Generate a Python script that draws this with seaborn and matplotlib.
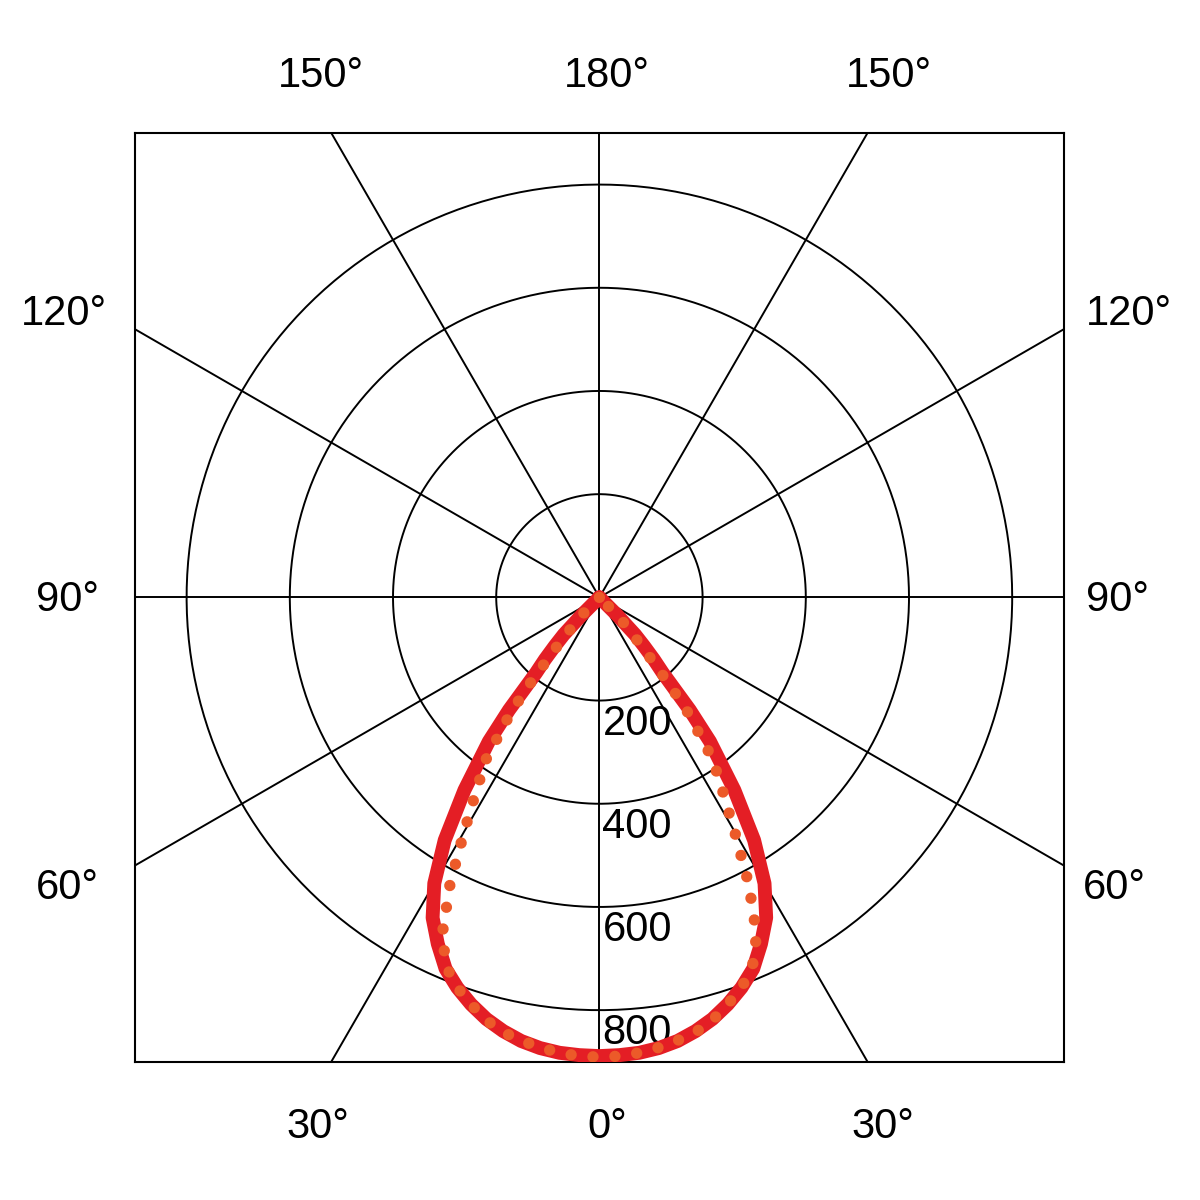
import numpy as np
import pandas as pd
import matplotlib.pyplot as plt
import seaborn as sns

# luminous intensity (cd) against angle from nadir (symmetric)
angles = [0, 2.5, 5, 7.5, 10, 12.5, 15, 17.5, 20, 22.5, 25, 27.5, 30, 32.5, 35, 37.5,
          38.75, 40, 41.25, 42.5, 43.75, 45, 47.5]
solid_cd = [889, 888, 886, 881, 873, 861, 846, 827, 805, 779, 741, 700, 640, 558, 456, 352,
            280, 191, 160, 128, 100, 50, 0]
dotted_cd = [891, 890, 886, 880, 872, 863, 848, 827, 805, 775, 721, 627, 524, 444, 382, 283,
             220, 153, 115, 80, 67, 55, 0]

ring_values = [200, 400, 600, 800]
spoke_angles = [0, 30, 60, 90, 120, 150, 180]
angle_text = ['150°', '180°', '150°', '120°', '120°', '90°', '90°', '60°', '60°', '30°', '0°', '30°']

sns.set_style('white')
plt.rcParams['font.family'] = ['Liberation Sans', 'DejaVu Sans']
plt.rcParams['text.color'] = 'black'


def to_xy(ang, vals):
    # mirror the half curve and turn polar (0 deg = down) into x/y
    a = np.radians(np.concatenate([-np.array(ang[::-1]), np.array(ang[1:])]))
    r = np.concatenate([np.array(vals[::-1]), np.array(vals[1:])])
    return pd.DataFrame({'x': r * np.sin(a), 'y': -r * np.cos(a)})


fig = plt.figure(figsize=(12, 12), dpi=100)
ax = fig.add_axes([0.1125, 0.1142, 0.774, 0.776])
R = 900
ax.set_xlim(-R, R)
ax.set_ylim(-R, R)
ax.set_aspect('equal')
ax.set_xticks([])
ax.set_yticks([])
for s in ax.spines.values():
    s.set_color('black')
    s.set_linewidth(1.5)

# grid: rings and spokes
t = np.linspace(0, 2 * np.pi, 400)
for rv in ring_values:
    ax.plot(rv * np.cos(t), rv * np.sin(t), color='black', lw=1.4, zorder=1)
for a in spoke_angles:
    for sgn in ([1] if a in (0, 180) else [1, -1]):
        ar = np.radians(a) * sgn
        ax.plot([0, 2000 * np.sin(ar)], [0, -2000 * np.cos(ar)], color='black', lw=1.4, zorder=1)

for rv in ring_values:
    ax.text(6, -rv - 66, str(rv), fontsize=30, ha='left', va='baseline', color='black', zorder=2)

# curves
solid = to_xy(angles, solid_cd)
dotted = to_xy(angles, dotted_cd)
sns.lineplot(data=solid, x='x', y='y', sort=False, estimator=None, color='#E41E25',
             linewidth=10, ax=ax, zorder=3, solid_capstyle='round', solid_joinstyle='round')
sns.lineplot(data=dotted, x='x', y='y', sort=False, estimator=None, color='#EC5A29',
             linewidth=8.2, ax=ax, zorder=4, linestyle=(0, (0.001, 1.93)), dash_capstyle='round')
ax.set_xlabel('')
ax.set_ylabel('')

# angle labels around the box
label_pos = [(-539, 990), (14, 990), (562, 990),
             (-1037, 527), (1027, 527), (-1031, -27), (1004, -27),
             (-1031, -585), (998, -585),
             (-546, -1048), (15, -1048), (550, -1048)]
for txt, (lx, ly) in zip(angle_text, label_pos):
    ax.text(lx, ly, txt, fontsize=30, ha='center', va='baseline', color='black', clip_on=False)

fig.savefig('out.png', dpi=100, facecolor='white')
